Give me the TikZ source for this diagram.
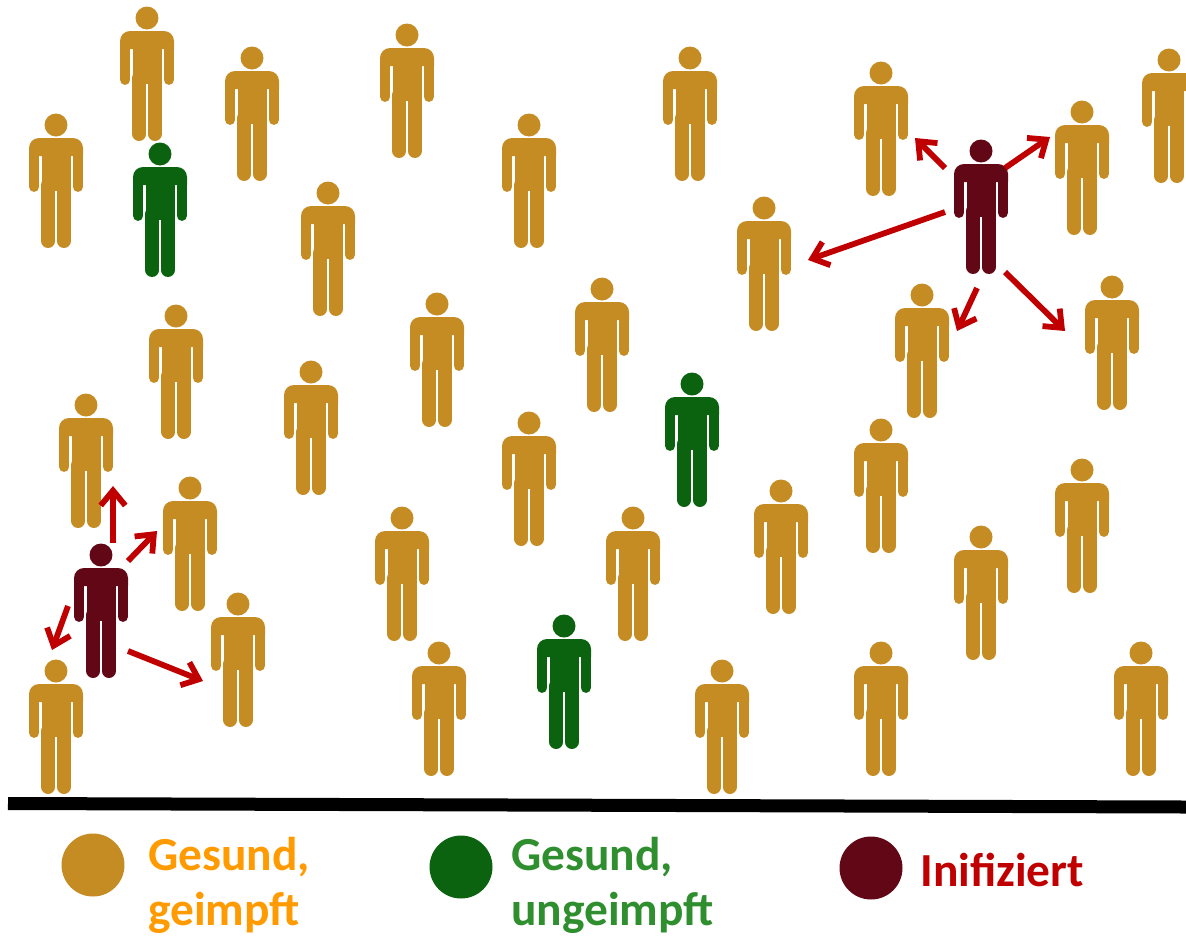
\documentclass[tikz,border=0pt]{standalone}
\usepackage{fontspec}
\setmainfont{Carlito}
\usetikzlibrary{arrows.meta}

\definecolor{goldbody}{HTML}{C58C24}
\definecolor{greenbody}{HTML}{0B630F}
\definecolor{sickbody}{HTML}{620716}
\definecolor{arrowred}{HTML}{C00000}
\definecolor{goldtext}{HTML}{FF9A00}
\definecolor{greentext}{HTML}{2F8F2F}

\tikzset{
    spread/.style={arrowred, line width=3.3pt, -{Straight Barb[length=8.5pt, width=14pt]}},
    legenddot/.style={circle, minimum size=1.26cm, inner sep=0pt},
    legendtext/.style={anchor=north west, inner sep=0pt, align=left, font=\fontsize{27}{31}\selectfont\bfseries},
    pics/person/.style={code={
        \fill[#1] (0,0) circle [radius=0.23cm];
        \fill[#1] (-27,31) [rounded corners=0.2cm] -- (-27,13) -- (27,13) [sharp corners] -- (27,31) -- cycle;
        \fill[#1] (-14.5,13) rectangle (14.5,66);
        \draw[#1, line width=5.9pt, line cap=round] (-21.75,30) -- (-21.75,61.75);
        \draw[#1, line width=5.9pt, line cap=round] (21.75,30) -- (21.75,61.75);
        \draw[#1, line width=7.95pt, line cap=round] (-7.75,60) -- (-7.75,116);
        \draw[#1, line width=7.95pt, line cap=round] (7.75,60) -- (7.75,116);
    }}
}

\begin{document}
\begin{tikzpicture}[x=0.02cm, y=-0.02cm]

    \useasboundingbox (0,0) rectangle (1186,937);
    \clip (0,0) rectangle (1186,937);

    % Healthy and vaccinated
    \foreach \px/\py in {147/18, 252/58, 407/35, 690/58, 881/73, 1169/60, 56/125, 529/125,
                         1082/112, 328/193, 764/208, 922/295, 1112/287, 602/289, 176/316,
                         437/304, 311/372, 86/405, 529/423, 881/430, 1082/470, 190/488,
                         402/518, 781/491, 633/518, 981/537, 238/604, 56/671, 439/653,
                         722/671, 881/653, 1141/653}
        \pic at (\px,\py) {person=goldbody};

    % Healthy, not vaccinated
    \foreach \px/\py in {160/154, 692/384, 564/626}
        \pic at (\px,\py) {person=greenbody};

    % Infected
    \foreach \px/\py in {981/151, 101/555}
        \pic at (\px,\py) {person=sickbody};

    % Arrows of the right group
    \coordinate (rightA) at (945,168);   \coordinate (rightAend) at (915,138);
    \coordinate (rightB) at (1005,168);  \coordinate (rightBend) at (1050,137);
    \coordinate (rightC) at (945,212);   \coordinate (rightCend) at (808,260);
    \coordinate (rightD) at (977,288);   \coordinate (rightDend) at (957,331);
    \coordinate (rightE) at (1005,272);  \coordinate (rightEend) at (1065,331);
    \foreach \arrowname in {rightA, rightB, rightC, rightD, rightE}
        \draw[spread] (\arrowname) -- (\arrowname end);

    % Arrows of the left group
    \coordinate (leftA) at (113,543);  \coordinate (leftAend) at (113,486);
    \coordinate (leftB) at (128,561);  \coordinate (leftBend) at (157,531);
    \coordinate (leftC) at (68,606);   \coordinate (leftCend) at (52,650);
    \coordinate (leftD) at (128,651);  \coordinate (leftDend) at (203,681);
    \foreach \arrowname in {leftA, leftB, leftC, leftD}
        \draw[spread] (\arrowname) -- (\arrowname end);

    % Ground line
    \coordinate (groundL) at (8,803.5);
    \coordinate (groundR) at (1186,807);
    \draw[black, line width=7.4pt] (groundL) -- (groundR);

    % Legend
    \node[legenddot, fill=goldbody] (dotgold) at (93,865) {};
    \node[legenddot, fill=greenbody] (dotgreen) at (461,867) {};
    \node[legenddot, fill=sickbody] (dotsick) at (871,868) {};
    \node[legendtext, text=goldtext] (labelgold) at (148,837) {Gesund,\\geimpft};
    \node[legendtext, text=greentext] (labelgreen) at (511,837) {Gesund,\\ungeimpft};
    \node[legendtext, text=arrowred] (labelsick) at (920,853) {Inifiziert};

\end{tikzpicture}
\end{document}
